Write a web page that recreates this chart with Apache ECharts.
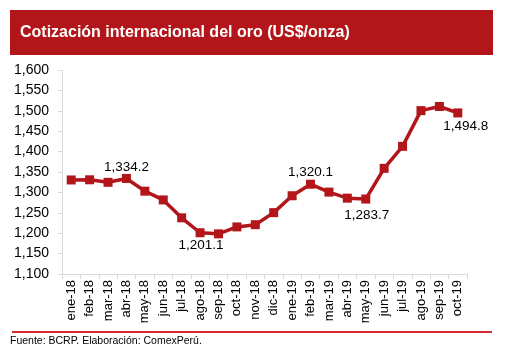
<!DOCTYPE html>
<html>
<head>
<meta charset="utf-8">
<title>Cotización del oro</title>
<script src="https://cdn.jsdelivr.net/npm/echarts@6/dist/echarts.min.js"></script>
<style>
html, body { margin: 0; padding: 0; background: #fff; }
#main { width: 506px; height: 354px; }
</style>
</head>
<body>
<div id="main"></div>
<script>
// datos
var meses = ['ene-18','feb-18','mar-18','abr-18','may-18','jun-18','jul-18','ago-18','sep-18','oct-18','nov-18','dic-18',
             'ene-19','feb-19','mar-19','abr-19','may-19','jun-19','jul-19','ago-19','sep-19','oct-19'];
var precio = [1330.5, 1330.9, 1324.7, 1334.2, 1303.0, 1281.6, 1237.7, 1201.1, 1198.4, 1215.4, 1220.9, 1250.4,
              1291.8, 1320.1, 1300.7, 1285.9, 1283.7, 1359.0, 1412.9, 1500.4, 1510.6, 1494.8];
// puntos con etiqueta: indice -> [posicion, desplazamiento]
var etiquetas = {
    3: ['top', [0, 2]],
    7: ['bottom', [1, -1]],
    13: ['top', [0, 2]],
    16: ['bottom', [1, 3]],
    21: ['bottom', [8, 0]]
};

var rojo = '#b2161a';
var chart = echarts.init(document.getElementById('main'));

var serie = precio.map(function (v, i) {
    var p = { value: v };
    if (etiquetas[i]) {
        p.label = { show: true, position: etiquetas[i][0], offset: etiquetas[i][1] };
    }
    return p;
});

chart.setOption({
    animation: false,
    grid: { left: 62, right: 39, top: 70, bottom: 80 },
    graphic: [
        { type: 'rect', shape: { x: 10, y: 10, width: 483, height: 45 }, style: { fill: rojo } },
        { type: 'text', x: 20, y: 33, style: { text: 'Cotización internacional del oro (US$/onza)', fill: '#fff',
            font: 'bold 16px "Liberation Sans", Arial', verticalAlign: 'middle' } },
        { type: 'rect', shape: { x: 12, y: 331, width: 480, height: 2 }, style: { fill: '#d52b30' } },
        { type: 'text', x: 10, y: 341, style: { text: 'Fuente: BCRP. Elaboración: ComexPerú.', fill: '#000',
            font: '10.5px "Liberation Sans", Arial', verticalAlign: 'middle' } }
    ],
    xAxis: {
        type: 'category',
        data: meses,
        boundaryGap: true,
        axisLine: { lineStyle: { color: '#d9d9d9', width: 1 } },
        axisTick: { show: true, length: 5, lineStyle: { color: '#d9d9d9' } },
        axisLabel: { rotate: 90, interval: 0, color: '#000', fontSize: 13, fontFamily: 'Liberation Sans', margin: 6 }
    },
    yAxis: {
        type: 'value',
        min: 1100,
        max: 1600,
        interval: 50,
        splitLine: { show: false },
        axisLine: { show: true, lineStyle: { color: '#d9d9d9' } },
        axisTick: { show: true, length: 4, lineStyle: { color: '#d9d9d9' } },
        axisLabel: {
            color: '#000', fontSize: 14, fontFamily: 'Liberation Sans', margin: 13,
            formatter: function (v) { return v.toLocaleString('en-US'); }
        }
    },
    series: [{
        type: 'line',
        data: serie,
        symbol: 'rect',
        symbolSize: 9,
        lineStyle: { color: rojo, width: 3.5 },
        itemStyle: { color: rojo },
        label: {
            color: '#000', fontSize: 13.5, fontFamily: 'Liberation Sans', distance: 2,
            formatter: function (p) {
                return p.value.toLocaleString('en-US', { minimumFractionDigits: 1, maximumFractionDigits: 1 });
            }
        }
    }]
});
</script>
</body>
</html>
